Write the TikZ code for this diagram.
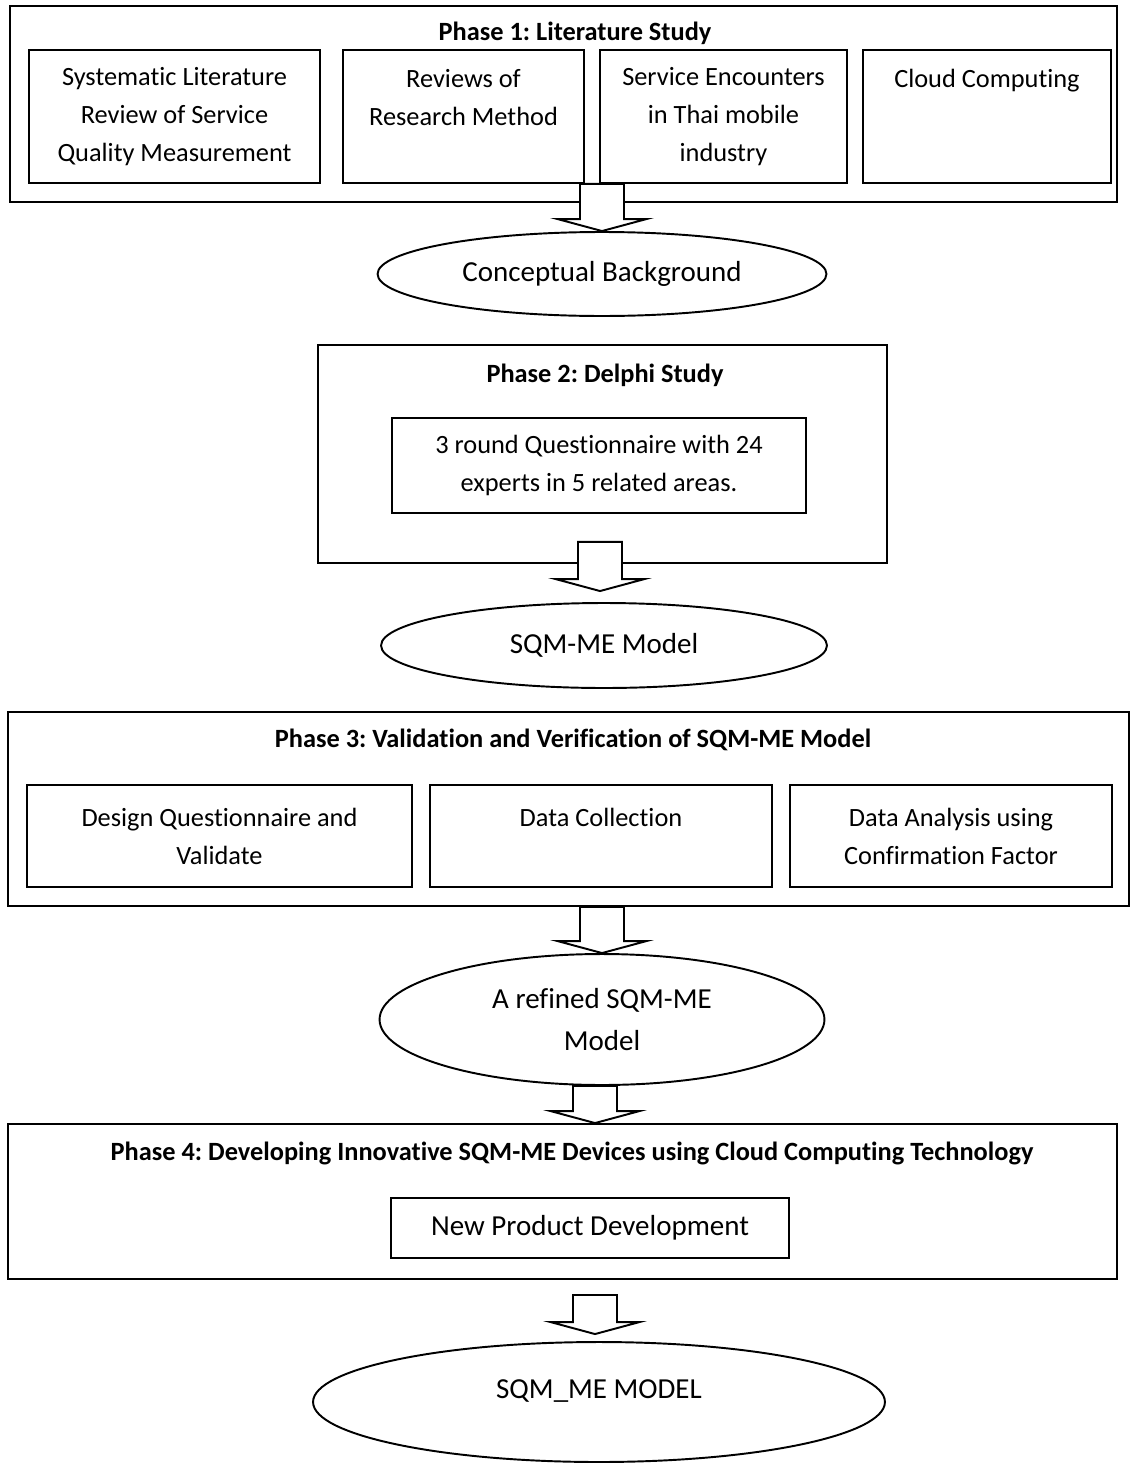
\documentclass[tikz,border=0pt]{standalone}
\usepackage{fontspec}
\setmainfont[Ligatures=NoCommon]{Carlito}
\frenchspacing
\usetikzlibrary{shapes.geometric,calc}

\tikzset{
  phase/.style={draw, line width=1.1pt, inner sep=0pt},
  inbox/.style={draw, line width=1.1pt, inner sep=0pt, align=center,
    font=\fontsize{15}{21.6}\selectfont},
  title/.style={font=\fontsize{15}{18}\selectfont\bfseries},
  oval/.style={draw, ellipse, line width=1.1pt, inner sep=0pt, align=center,
    font=\fontsize{16.5}{23.8}\selectfont},
  fat/.style={draw, fill=white, line width=1.1pt, line join=miter}
}

% block arrow: shaft starts at y of #1, tip at #2
\newcommand{\fatarrow}[2]{%
  \draw[fat] let \p1=(#1), \p2=(#2) in
    (\x2-0.44cm,\y1) -- (\x2-0.44cm,\y2+0.24cm) -- (\x2-0.89cm,\y2+0.24cm)
    -- (\x2,\y2) -- (\x2+0.89cm,\y2+0.24cm) -- (\x2+0.44cm,\y2+0.24cm)
    -- (\x2+0.44cm,\y1) -- cycle;}

\begin{document}
\begin{tikzpicture}[x=0.02cm, y=-0.02cm]
    \useasboundingbox (0,0) rectangle (1131,1467);

    % Phase 1
    \node [phase, minimum width=22.14cm, minimum height=3.92cm] (p1) at (563.5,104) {};
    \node [title] (t1) at (575,33) {Phase 1: Literature Study};
    \node [inbox, minimum width=5.82cm, minimum height=2.66cm] (slr) at (174.5,116.5)
        {Systematic Literature\\Review of Service\\Quality Measurement};
    \node [inbox, minimum width=4.82cm, minimum height=2.66cm] (rrm) at (463.5,116.5)
        {Reviews of\\Research Method\\\mbox{}};
    \node [inbox, minimum width=4.94cm, minimum height=2.66cm] (sen) at (723.5,116.5)
        {Service Encounters\\in Thai mobile\\industry};
    \node [inbox, minimum width=4.96cm, minimum height=2.66cm] (cc) at (987,116.5)
        {Cloud Computing\\\mbox{}\\\mbox{}};
    \node [oval, minimum width=8.98cm, minimum height=1.68cm] (cb) at (602,274)
        {Conceptual Background};

    % Phase 2
    \node [phase, minimum width=11.38cm, minimum height=4.36cm] (p2) at (602.5,454) {};
    \node [title] (t2) at (605,375) {Phase 2: Delphi Study};
    \node [inbox, minimum width=8.28cm, minimum height=1.9cm] (dq) at (599,465.5)
        {3 round Questionnaire with 24\\experts in 5 related areas.};
    \node [oval, minimum width=8.92cm, minimum height=1.7cm] (sm) at (604,645.5)
        {SQM-ME Model};

    % Phase 3
    \node [phase, minimum width=22.42cm, minimum height=3.88cm] (p3) at (568.5,809) {};
    \node [title] (t3) at (573,740) {Phase 3: Validation and Verification of SQM-ME Model};
    \node [inbox, minimum width=7.7cm, minimum height=2.04cm] (dqv) at (219.5,836)
        {Design Questionnaire and\\Validate};
    \node [inbox, minimum width=6.84cm, minimum height=2.04cm] (dc) at (601,836)
        {Data Collection\\\mbox{}};
    \node [inbox, minimum width=6.44cm, minimum height=2.04cm] (da) at (951,836)
        {Data Analysis using\\Confirmation Factor};
    \node [oval, minimum width=8.9cm, minimum height=2.62cm] (rf) at (602,1019.5)
        {A refined SQM-ME\\Model};

    % Phase 4
    \node [phase, minimum width=22.18cm, minimum height=3.1cm] (p4) at (562.5,1201.5) {};
    \node [title] (t4) at (572,1153)
        {Phase 4: Developing Innovative SQM-ME Devices using Cloud Computing Technology};
    \node [inbox, minimum width=7.96cm, minimum height=1.2cm,
        font=\fontsize{16.5}{20}\selectfont] (npd) at (590,1228) {New Product Development};
    \node [oval, minimum width=11.44cm, minimum height=2.4cm] (fm) at (599,1402)
        {SQM\_ME MODEL\\[-9pt]\mbox{}};

    % Arrows between stages
    \fatarrow{$(p1.south)+(0,-19)$}{cb.north}
    \fatarrow{$(p2.south)+(0,-22)$}{$(sm.north)+(-4,-11)$}
    \fatarrow{p3.south}{rf.north}
    \fatarrow{rf.south}{$(rf.south |- p4.north)+(-7,0)$}
    \fatarrow{$(p4.south)+(0,15)$}{$(fm.north)+(-4,-7)$}
\end{tikzpicture}
\end{document}
